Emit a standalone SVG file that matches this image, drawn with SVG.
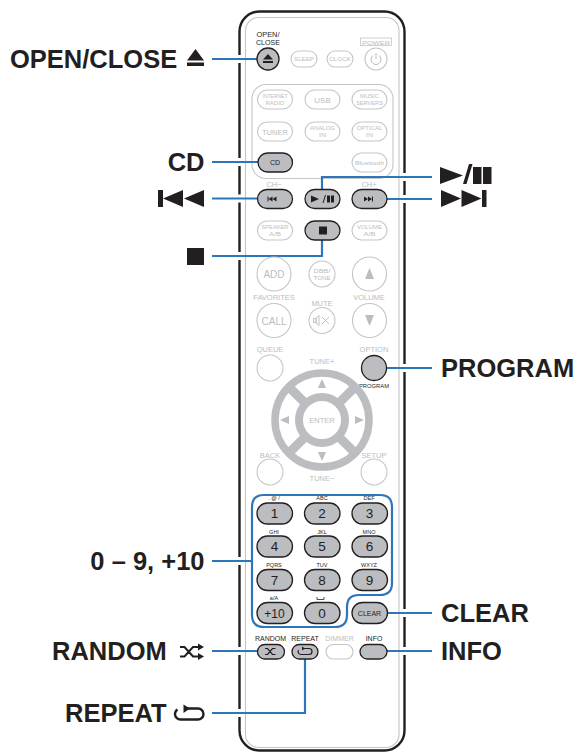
<svg xmlns="http://www.w3.org/2000/svg" width="576" height="753" viewBox="0 0 576 753">
<style>
text{font-family:"Liberation Sans",Arial,sans-serif;text-anchor:middle}
.lbl{font-weight:700;font-size:25.5px;fill:#231f20;text-anchor:start}
.lbr{font-weight:700;font-size:25.5px;fill:#231f20;text-anchor:end}
.l{fill:#fff;stroke:#c4c5c7;stroke-width:1.1}
.d{fill:#bcbdc0;stroke:#231f20;stroke-width:1.3}
.t{fill:#bcbdc0;font-size:7.5px}
.s{fill:#bcbdc0;font-size:6px}
.tb{fill:#231f20;font-size:7px}
.x{fill:#231f20;font-size:5.5px}
.k{fill:#bcbdc0;font-size:8px}
.n{fill:#231f20;font-size:13.5px}
.c{fill:none;stroke:#2f75bb;stroke-width:2.2}
.h{fill:none;stroke:#fff;stroke-width:8}
.ic{fill:#231f20}
.il{fill:none;stroke:#231f20;stroke-width:1.2}
</style>
<g id="remote-body">
<rect x="239.500" y="11.500" width="165" height="739" rx="20" fill="#fff" stroke="#231f20" stroke-width="2.400"/>
<rect x="245.500" y="17.500" width="153.500" height="730" rx="13" fill="none" stroke="#c4c5c7" stroke-width="1.100"/>
<rect x="252" y="84.500" width="141" height="94" rx="14" fill="none" stroke="#c4c5c7" stroke-width="1.100"/>
<text class="x" x="268" y="37" style="font-size:6.400px" textLength="23" lengthAdjust="spacingAndGlyphs">OPEN/</text><text class="x" x="268" y="44.500" style="font-size:6.400px" textLength="24" lengthAdjust="spacingAndGlyphs">CLOSE</text>
<text class="s" x="376" y="44.500" textLength="28" lengthAdjust="spacingAndGlyphs">POWER</text>
<rect x="360.500" y="38" width="31" height="7.500" fill="none" stroke="#c4c5c7" stroke-width="0.800"/>
<text class="t" x="274" y="187">CH−</text><text class="t" x="369" y="187">CH+</text>
<text class="t" x="274" y="300">FAVORITES</text><text class="t" x="369" y="300">VOLUME</text><text class="t" x="322" y="305.500">MUTE</text>
<text class="t" x="270" y="352">QUEUE</text><text class="t" x="322" y="364">TUNE+</text><text class="t" x="374" y="352">OPTION</text>
<text class="x" x="374" y="388" textLength="30" lengthAdjust="spacingAndGlyphs">PROGRAM</text>
<text class="t" x="270" y="458">BACK</text><text class="t" x="374" y="458">SETUP</text><text class="t" x="322" y="481">TUNE−</text>
<text class="tb" x="270.500" y="641">RANDOM</text><text class="tb" x="305" y="641">REPEAT</text>
<text class="t" x="339.500" y="641" style="font-size:7px">DIMMER</text><text class="tb" x="374" y="641">INFO</text>
<text class="x" x="274" y="500">. @ /</text><text class="x" x="322" y="500">ABC</text><text class="x" x="369" y="500">DEF</text>
<text class="x" x="274" y="534">GHI</text><text class="x" x="322" y="534">JKL</text><text class="x" x="369" y="534">MNO</text>
<text class="x" x="274" y="567">PQRS</text><text class="x" x="322" y="567">TUV</text><text class="x" x="369" y="567">WXYZ</text>
<text class="x" x="274" y="600">a/A</text>
<path d="M317 597v2.500h7v-2.500" fill="none" stroke="#231f20" stroke-width="0.800"/>
</g>
<g id="connectors">
<path class="h" d="M235 59h8M235 162h8M235 198.500h8M235 256h8M235 561h8M235 651h8M235 713h8M401 177h8M401 199h8M401 368h8M401 613h8M401 651h8"/>
<path class="c" d="M212 59H258M212 162H258M212 198.500H258M212 256H322V240M322 189V177H432M387 199H432M387 368H432M212 561H252M387 613H432M212 651H258M212 713H305V658M387 651H432"/>
<path id="numpad-bracket" class="c" d="M264 495H380Q392 495 392 507V583Q392 595 380 595H359Q347 595 347 607V615Q347 627 335 627H264Q252 627 252 615V507Q252 495 264 495Z"/>
</g>
<g id="btn-open-close"><circle class="d" cx="268" cy="59" r="11"/><path class="ic" d="M263 59.500 268 54l5 5.500zM263 61h10v2h-10z"/></g>
<g id="btn-sleep"><rect class="l" x="291" y="51" width="26" height="16" rx="8"/><text class="s" x="304" y="61" textLength="20" lengthAdjust="spacingAndGlyphs">SLEEP</text></g>
<g id="btn-clock"><rect class="l" x="327" y="51" width="26" height="16" rx="8"/><text class="s" x="340" y="61" textLength="22" lengthAdjust="spacingAndGlyphs">CLOCK</text></g>
<g id="btn-power"><circle class="l" cx="376" cy="59" r="11"/><path d="M373 55.500a5 5 0 1 0 6 0M376 53v6" fill="none" stroke="#bcbdc0" stroke-width="1"/></g>
<g id="btn-internet"><rect class="l" x="257.500" y="90" width="35" height="19" rx="9.500"/><text class="s" x="275" y="98" textLength="25" lengthAdjust="spacingAndGlyphs">INTERNET</text><text class="s" x="275" y="105" textLength="19" lengthAdjust="spacingAndGlyphs">RADIO</text></g>
<g id="btn-usb"><rect class="l" x="305" y="90" width="35" height="19" rx="9.500"/><text class="k" x="322.500" y="102.500">USB</text></g>
<g id="btn-music"><rect class="l" x="352" y="90" width="35" height="19" rx="9.500"/><text class="s" x="369.500" y="98" textLength="19" lengthAdjust="spacingAndGlyphs">MUSIC</text><text class="s" x="369.500" y="105" textLength="27" lengthAdjust="spacingAndGlyphs">SERVERS</text></g>
<g id="btn-tuner"><rect class="l" x="257.500" y="122" width="35" height="19" rx="9.500"/><text class="k" x="275" y="134.500" style="font-size:7.600px">TUNER</text></g>
<g id="btn-analog"><rect class="l" x="305" y="122" width="35" height="19" rx="9.500"/><text class="s" x="322.500" y="130" textLength="25" lengthAdjust="spacingAndGlyphs">ANALOG</text><text class="s" x="322.500" y="137" textLength="7" lengthAdjust="spacingAndGlyphs">IN</text></g>
<g id="btn-optical"><rect class="l" x="352" y="122" width="35" height="19" rx="9.500"/><text class="s" x="369.500" y="130" textLength="26" lengthAdjust="spacingAndGlyphs">OPTICAL</text><text class="s" x="369.500" y="137" textLength="7" lengthAdjust="spacingAndGlyphs">IN</text></g>
<g id="btn-cd"><rect class="d" x="258" y="153" width="34.500" height="19" rx="9.500"/><text class="tb" x="275" y="165">CD</text></g>
<g id="btn-bluetooth"><rect class="l" x="352" y="153" width="35" height="19" rx="9.500"/><text class="s" x="369.500" y="165" textLength="29" lengthAdjust="spacingAndGlyphs">Bluetooth</text></g>
<g id="btn-prev"><rect class="d" x="257.500" y="189.500" width="35" height="19" rx="9.500"/><path class="ic" d="M267.500 196.500h1v5h-1zM268.500 199l4-2.500v5zM272.500 199l4-2.500v5z"/></g>
<g id="btn-play"><rect class="d" x="305" y="189.500" width="35" height="19" rx="9.500"/><path class="ic" d="M311 195.500 319 199l-8 3.500zM322.500 203l2.500-8h1l-2.500 8zM327 195.500h3v7h-3zM331 195.500h3v7h-3z"/></g>
<g id="btn-next"><rect class="d" x="352" y="189.500" width="35" height="19" rx="9.500"/><path class="ic" d="M364 196.500l4 2.500-4 2.500zM368 196.500l4 2.500-4 2.500zM372 196.500h1v5h-1z"/></g>
<g id="btn-speaker"><rect class="l" x="257.500" y="221" width="35" height="19" rx="9.500"/><text class="s" x="275" y="229" textLength="27" lengthAdjust="spacingAndGlyphs">SPEAKER</text><text class="s" x="275" y="236" textLength="12" lengthAdjust="spacingAndGlyphs">A/B</text></g>
<g id="btn-stop"><rect class="d" x="305" y="221" width="35" height="19" rx="9.500"/><rect class="ic" x="319" y="226.500" width="8" height="8"/></g>
<g id="btn-volume-ab"><rect class="l" x="352" y="221" width="35" height="19" rx="9.500"/><text class="s" x="369.500" y="229" textLength="25" lengthAdjust="spacingAndGlyphs">VOLUME</text><text class="s" x="369.500" y="236" textLength="12" lengthAdjust="spacingAndGlyphs">A/B</text></g>
<g id="btn-add"><circle class="l" cx="274" cy="274" r="17"/><text x="274" y="278" font-size="10" fill="#bcbdc0">ADD</text></g>
<g id="btn-dbb"><circle class="l" cx="322" cy="274" r="13"/><text class="s" x="322" y="273" textLength="17" lengthAdjust="spacingAndGlyphs">DBB/</text><text class="s" x="322" y="280" textLength="17" lengthAdjust="spacingAndGlyphs">TONE</text></g>
<g id="btn-vol-up"><circle class="l" cx="369.500" cy="274" r="17"/><path d="M365 279 369.500 268 374 279z" fill="#bcbdc0"/></g>
<g id="btn-call"><circle class="l" cx="274" cy="320.500" r="17"/><text x="274" y="324.500" font-size="10" fill="#bcbdc0">CALL</text></g>
<g id="btn-mute"><circle class="l" cx="322" cy="320.500" r="13"/><path d="M313.500 318.500h2.500v4h-2.500zM316 318l3-2.500v10l-3-2.500zM322 317l7 7M329 317l-7 7" fill="none" stroke="#bcbdc0" stroke-width="0.900"/></g>
<g id="btn-vol-down"><circle class="l" cx="369.500" cy="320.500" r="17"/><path d="M365 315 369.500 326 374 315z" fill="#bcbdc0"/></g>
<g id="btn-queue"><circle class="l" cx="270" cy="368" r="13"/></g>
<g id="btn-option"><circle class="d" cx="374" cy="368" r="12.500"/></g>
<g id="dpad">
<circle cx="322" cy="420" r="47" fill="#fff" stroke="#bcbdc0" stroke-width="7.500"/>
<path d="M288.500 386.500 355.500 453.500M355.500 386.500 288.500 453.500" stroke="#bcbdc0" stroke-width="9"/>
<circle cx="322" cy="420" r="23" fill="#fff" stroke="#bcbdc0" stroke-width="8"/>
<text class="t" x="322" y="423">ENTER</text>
<path d="M322 379 326 388H318zM322 461 326 452H318zM280 420 289 416V424zM364 420 355 416V424z" fill="#bcbdc0"/>
</g>
<g id="btn-back"><circle class="l" cx="270" cy="472" r="13"/></g>
<g id="btn-setup"><circle class="l" cx="374" cy="472" r="13"/></g>
<g id="btn-1"><rect class="d" x="257" y="503" width="35.500" height="21" rx="10.500"/><text class="n" x="274.500" y="518.300">1</text></g>
<g id="btn-2"><rect class="d" x="304.500" y="503" width="35.500" height="21" rx="10.500"/><text class="n" x="322" y="518.300">2</text></g>
<g id="btn-3"><rect class="d" x="352" y="503" width="35.500" height="21" rx="10.500"/><text class="n" x="369.500" y="518.300">3</text></g>
<g id="btn-4"><rect class="d" x="257" y="536" width="35.500" height="21" rx="10.500"/><text class="n" x="274.500" y="551">4</text></g>
<g id="btn-5"><rect class="d" x="304.500" y="536" width="35.500" height="21" rx="10.500"/><text class="n" x="322" y="551">5</text></g>
<g id="btn-6"><rect class="d" x="352" y="536" width="35.500" height="21" rx="10.500"/><text class="n" x="369.500" y="551">6</text></g>
<g id="btn-7"><rect class="d" x="257" y="569.500" width="35.500" height="21" rx="10.500"/><text class="n" x="274.500" y="584.800">7</text></g>
<g id="btn-8"><rect class="d" x="304.500" y="569.500" width="35.500" height="21" rx="10.500"/><text class="n" x="322" y="584.800">8</text></g>
<g id="btn-9"><rect class="d" x="352" y="569.500" width="35.500" height="21" rx="10.500"/><text class="n" x="369.500" y="584.800">9</text></g>
<g id="btn-10"><rect class="d" x="257" y="602.500" width="35.500" height="21" rx="10.500"/><text class="n" x="274.500" y="617.800" style="font-size:12px">+10</text></g>
<g id="btn-0"><rect class="d" x="304.500" y="602.500" width="35.500" height="21" rx="10.500"/><text class="n" x="322" y="617.800">0</text></g>
<g id="btn-clear"><rect class="d" x="352" y="602.500" width="35.500" height="21" rx="10.500"/><text class="tb" x="369.500" y="615.500">CLEAR</text></g>
<g id="btn-random"><rect class="d" x="257.500" y="644.500" width="27" height="14.500" rx="7.250"/><path class="il" d="M265 648.500h2.500l5 6h3M265 654.500h2.500l5-6h3"/></g>
<g id="btn-repeat"><rect class="d" x="292" y="644.500" width="26" height="14.500" rx="7.250"/><path class="il" d="M303 648.500h6a3 3 0 0 1 0 6h-8a3 3 0 0 1-2.500-4.500"/><path class="ic" d="M302 646.500 305 648.500 302 650.500z"/></g>
<g id="btn-dimmer"><rect class="l" x="326" y="644.500" width="27" height="14.500" rx="7.250"/></g>
<g id="btn-info"><rect class="d" x="360" y="644.500" width="27" height="14.500" rx="7.250"/></g>
<g id="label-open-close"><text class="lbl" x="10" y="68">OPEN/CLOSE</text><path class="ic" d="M187 60.500 195.500 49 204 60.500zM187 62.500h17v3.500h-17z"/></g>
<g id="label-cd"><text class="lbr" x="204.500" y="171">CD</text></g>
<g id="label-prev"><path class="ic" d="M158 190h5v17h-5zM163 198.500 183 190v17zM184 198.500 204 190v17z"/></g>
<g id="label-stop"><rect class="ic" x="187" y="248" width="17" height="17"/></g>
<g id="label-play-pause"><path class="ic" d="M440 167 463 175.500 440 184zM463 184 469 164h3.500L466.500 184zM473 167h8.500v17H473zM483 167h8.500v17H483z"/></g>
<g id="label-next"><path class="ic" d="M441 190 461 198.500 441 207zM461.500 190 481.500 198.500 461.500 207zM482 190h4.500v17H482z"/></g>
<g id="label-program"><text class="lbl" x="441" y="377">PROGRAM</text></g>
<g id="label-digits"><text class="lbr" x="204.500" y="570">0 – 9, +10</text></g>
<g id="label-clear"><text class="lbl" x="441" y="622">CLEAR</text></g>
<g id="label-info"><text class="lbl" x="441" y="660">INFO</text></g>
<g id="label-random"><text class="lbl" x="52" y="660">RANDOM</text><path d="M180 647h4.500l8.500 9.500h7M180 656.500h4.500l8.500-9.500h7" fill="none" stroke="#231f20" stroke-width="2"/><path class="ic" d="M198 643.500 204 647l-6 3.500zM198 653 204 656.500 198 660z"/></g>
<g id="label-repeat"><text class="lbl" x="65" y="722">REPEAT</text><path d="M186 708.500h12a5.500 5.500 0 0 1 0 11h-17.500a5.500 5.500 0 0 1-5.500-5.500c0-2 1-3.500 2.500-4.500" fill="none" stroke="#231f20" stroke-width="2.400"/><path class="ic" d="M183.500 704.500 190 708.500 183.500 713z"/></g>
</svg>
